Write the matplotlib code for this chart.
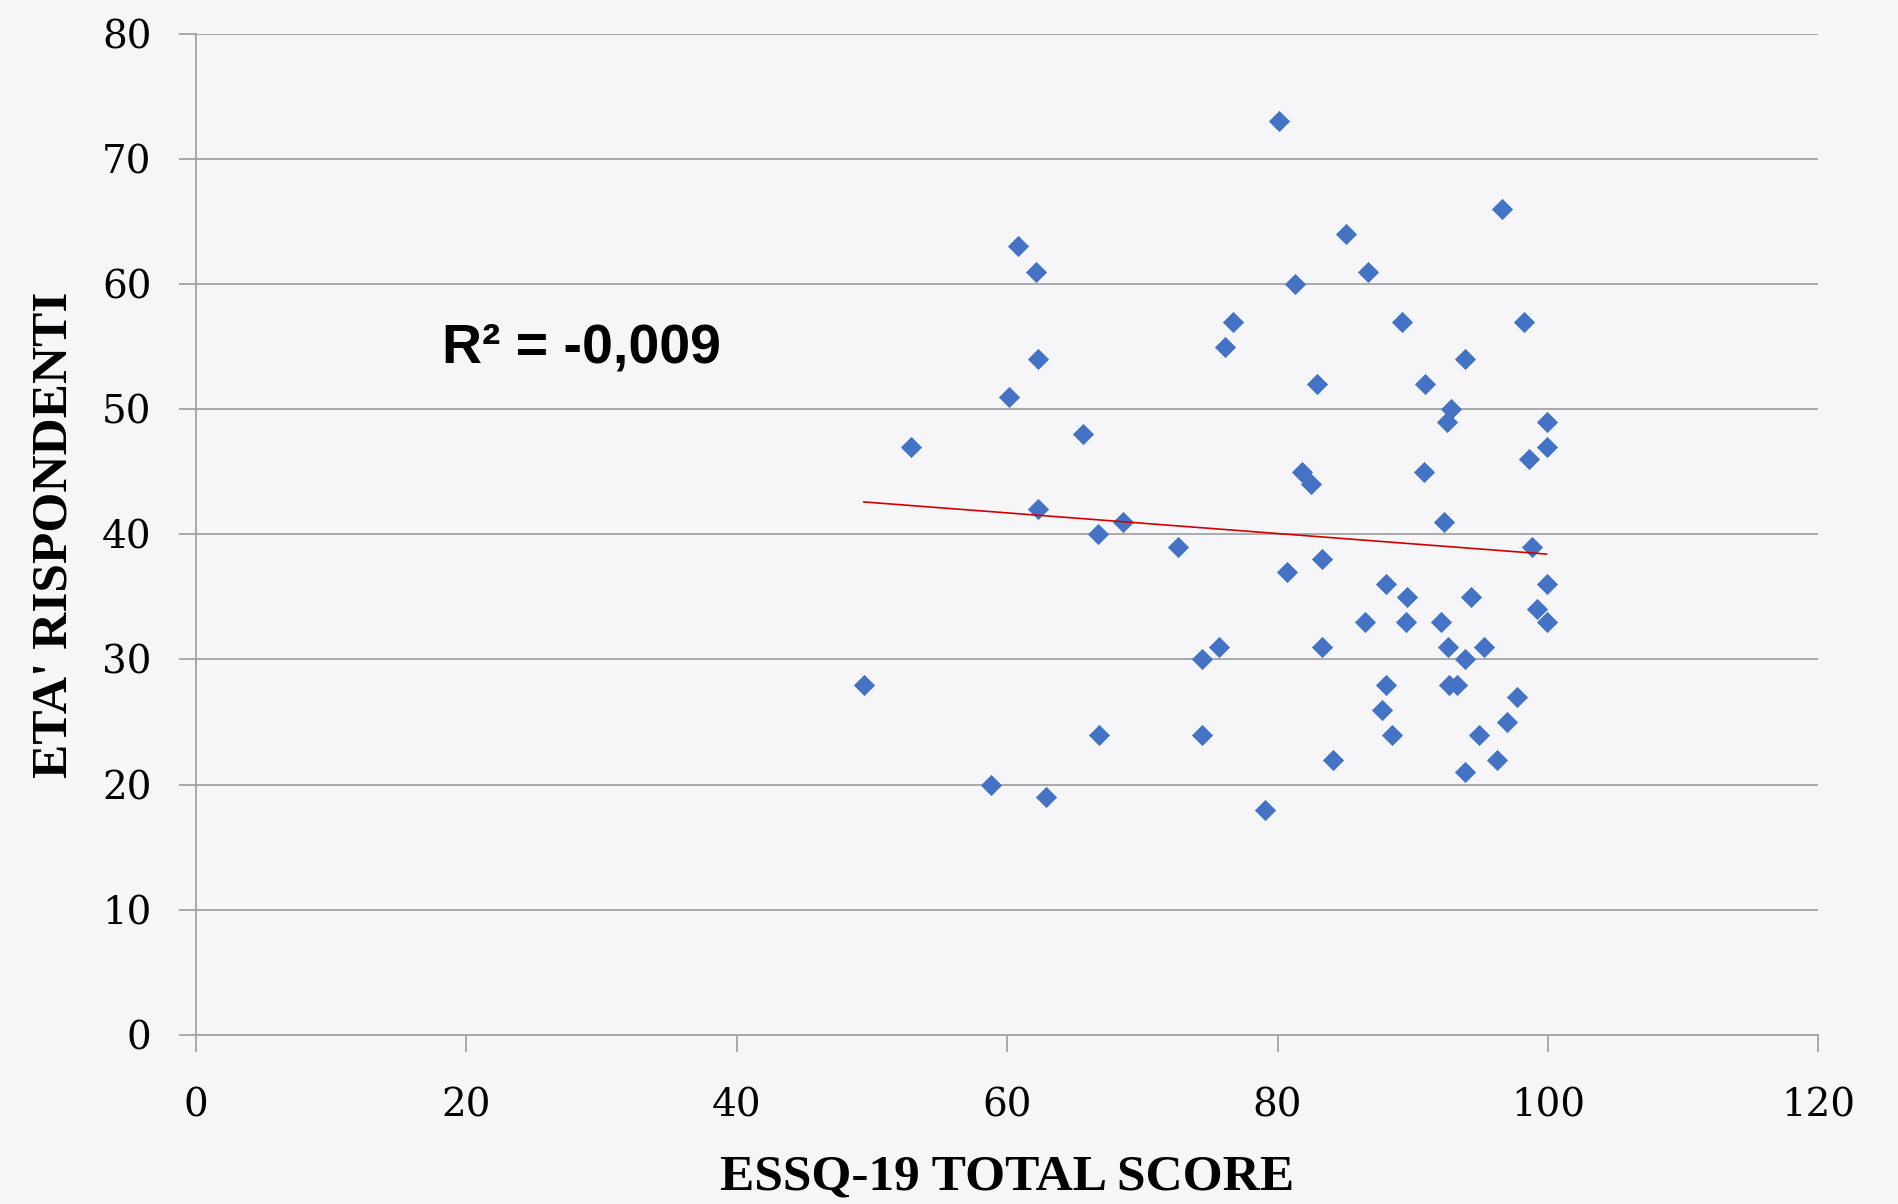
import numpy as np
import matplotlib
matplotlib.use("Agg")
import matplotlib.pyplot as plt

# ESSQ-19 total score (x) and age of respondents (y)
essq_score = [49.4, 52.9, 58.8, 60.1, 60.8, 62.1, 62.3, 62.3, 62.9, 65.6,
              66.7, 66.8, 68.6, 72.6, 74.4, 74.4, 75.7, 76.1, 76.7, 79.1,
              80.1, 80.7, 81.3, 81.8, 82.5, 82.9, 83.3, 83.3, 84.1, 85.1,
              86.5, 86.7, 87.7, 88.0, 88.0, 88.5, 89.2, 89.5, 89.6, 90.8,
              90.9, 92.1, 92.3, 92.5, 92.6, 92.8, 92.7, 93.3, 93.9, 93.9,
              93.9, 94.3, 94.9, 95.3, 96.2, 96.6, 97.0, 97.7, 98.2, 98.6,
              98.8, 99.2, 99.9, 99.9, 99.9, 99.9]
eta = [28, 47, 20, 51, 63, 61, 54, 42, 19, 48,
       40, 24, 41, 39, 30, 24, 31, 55, 57, 18,
       73, 37, 60, 45, 44, 52, 38, 31, 22, 64,
       33, 61, 26, 36, 28, 24, 57, 33, 35, 45,
       52, 33, 41, 49, 31, 50, 28, 28, 54, 30,
       21, 35, 24, 31, 22, 66, 25, 27, 57, 46,
       39, 34, 49, 47, 36, 33]

x_ticks = [0, 20, 40, 60, 80, 100, 120]
y_ticks = [0, 10, 20, 30, 40, 50, 60, 70, 80]
r2_label = "R² = -0,009"

grey = "#a3a3a3"

fig = plt.figure(figsize=(18.98, 12.04), dpi=100, facecolor="#f6f6f8")
ax = fig.add_axes([0.1033, 0.1404, 0.8547, 0.8316])
ax.set_facecolor("none")

ax.scatter(essq_score, eta, marker="D", s=10.8 ** 2, color="#4472c4",
           linewidths=0, zorder=3)

# linear trendline
slope, intercept = np.polyfit(essq_score, eta, 1)
xs = np.array([min(essq_score), max(essq_score)])
ax.plot(xs, slope * xs + intercept, color="#d00000", lw=1.2, zorder=4)

ax.text(18.2, 53.7, r2_label, fontsize=40, fontweight="bold",
        family="Liberation Sans", color="black")

ax.set_xlim(0, 120)
ax.set_ylim(0, 80)
ax.set_xticks(x_ticks)
ax.set_yticks(y_ticks)
ax.grid(axis="y", color=grey, lw=1.3)
ax.set_axisbelow(True)
for side in ["top", "right"]:
    ax.spines[side].set_visible(False)
for side in ["left", "bottom"]:
    ax.spines[side].set_color(grey)
    ax.spines[side].set_linewidth(1.3)
ax.tick_params(axis="both", direction="out", length=12, width=1.3, color=grey,
               labelsize=28, labelfontfamily="DejaVu Serif")
ax.tick_params(axis="y", pad=20)
ax.tick_params(axis="x", pad=26)

ax.set_xlabel("ESSQ-19 TOTAL SCORE", fontsize=37, fontweight="bold",
              family="Liberation Serif")
ax.set_ylabel("ETA' RISPONDENTI", fontsize=37, fontweight="bold",
              family="Liberation Serif")
ax.xaxis.set_label_coords(0.5, -0.1419)
ax.xaxis.label.set_va("center")
ax.yaxis.set_label_coords(-0.0875, 0.5)
ax.yaxis.label.set_va("center")

fig.savefig("out.png", dpi=100, facecolor=fig.get_facecolor())
